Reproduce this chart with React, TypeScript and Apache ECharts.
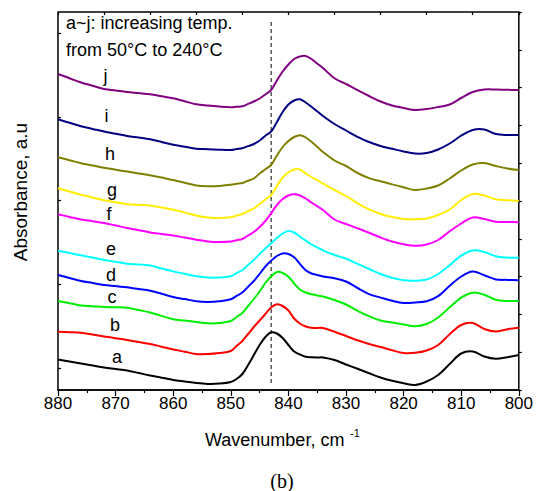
import React, { useEffect, useRef } from "react";
import * as echarts from "echarts";

// Wavenumber grid (cm-1): 2 cm-1 steps, 1 cm-1 steps across the main band
const wavenumbers = [
  880, 878, 876, 874, 872, 870, 868, 866, 864, 862, 860, 858, 856, 854, 852, 850,
  849, 848, 847, 846, 845, 844, 843, 842, 841, 840, 839, 838, 837, 836, 835, 834,
  832, 830, 828, 826, 824, 822, 820, 818, 816, 814, 812, 810, 808, 806, 804, 802, 800,
];

// Absorbance (arbitrary units, offset spectra)
const specA = [30.5, 28.5, 26.5, 24.5, 22.5, 21, 19.5, 17, 14.5, 12.3, 10, 8.5, 7, 6.1, 6.4, 8, 11, 16, 25, 35, 45, 53, 57.7, 56.5, 52, 45, 38.5, 35.5, 33.2, 32.8, 32.6, 32.5, 30, 25.5, 21.2, 16.8, 12.5, 9.2, 6.7, 5, 8.5, 15, 26, 36.5, 38.5, 33.5, 31.2, 32.8, 35];
const specB = [58.3, 57.8, 57.2, 55.4, 53.5, 51.8, 50, 48, 46, 43.3, 40.5, 38.3, 36, 36, 37, 39, 44, 49, 56, 63, 69.5, 76, 82.5, 85.7, 84, 79.5, 71.5, 66.5, 63.5, 62.3, 62.1, 62, 58.3, 54, 49.7, 46, 43, 39.7, 37, 37.2, 39.5, 45, 55.8, 65, 67, 61, 58.5, 60.8, 62.3];
const specC = [89, 86.8, 84.5, 83.8, 83, 82.7, 82.3, 79.9, 77.5, 74.1, 70.7, 69.4, 68, 66.7, 67, 69, 73, 77, 84, 91, 98.5, 107, 113.5, 118, 117, 113.3, 106.5, 100.5, 97.5, 95.7, 94.6, 93.5, 90, 85.5, 79.2, 73.8, 69.5, 67.5, 65.6, 63.8, 66, 72.5, 82.8, 92.3, 97.3, 95.3, 90.3, 89, 89];
const specD = [115, 112, 109, 107, 105, 103.9, 102.7, 101, 99.3, 96.2, 93, 90.9, 88.8, 88.1, 88.7, 90.7, 94.1, 97.5, 103.3, 109, 116, 123.5, 129.2, 134, 136.5, 136, 132.7, 126, 119.7, 116.5, 115, 113.5, 111.7, 108.5, 102, 95.9, 92.4, 89.2, 87, 87.5, 88.7, 93.8, 104.2, 113.5, 118.5, 114.7, 110.6, 110.1, 109.7];
const specE = [139.3, 137, 134.7, 132.4, 130, 128.2, 126.3, 125.4, 124.4, 121.5, 118.6, 116.2, 113.7, 112.4, 112.4, 113.7, 116.9, 120, 125, 130, 136, 141.5, 146.7, 152, 156.5, 159, 157.5, 153.3, 149.5, 145.5, 142.6, 139.7, 135, 131.2, 126.1, 121, 116, 112.3, 109.7, 109.3, 110.5, 116, 124.9, 134.3, 139.5, 138, 133.8, 132.5, 132.3];
const specF = [175.7, 173.1, 170.5, 168.8, 167, 164.5, 162, 159.8, 157.5, 156, 154.5, 152.4, 150.3, 148.6, 148, 148.5, 149.8, 151, 154.5, 158, 163, 169, 176.7, 185, 191, 194.5, 195.7, 194.5, 191.5, 187.5, 183.8, 180, 170.5, 166, 161.7, 157.2, 152.5, 148.5, 145.8, 144.3, 145.5, 150, 158.8, 166.5, 172.5, 171, 168.3, 168, 167.7];
const specG = [201.7, 198.5, 195.2, 192.5, 189.8, 187.8, 185.7, 185.2, 184.6, 182.4, 180.2, 177.4, 174.5, 172.6, 172, 172.7, 174.4, 176, 178.8, 181.5, 186, 190.5, 195, 204, 212.5, 217.5, 220.5, 220.5, 216.5, 213, 209.8, 206.5, 200, 194, 186.7, 180.7, 176, 173, 171, 170.7, 171.5, 175, 180.5, 190, 196, 194.5, 190.7, 189.7, 189];
const specH = [232.7, 229.8, 226.8, 224.5, 222.2, 220.3, 218.4, 216.6, 214.8, 212.4, 210, 207.3, 204.5, 203.8, 204.1, 205.3, 206.2, 207, 209.3, 211.5, 216.5, 220.7, 225, 234.5, 243, 249, 253, 254.8, 252.5, 248.3, 243.2, 238, 229.5, 224, 217, 211.9, 208.8, 205.6, 202.7, 200, 201.5, 204.5, 211.5, 219.5, 225.5, 226.9, 224, 221.5, 220];
const specI = [270.7, 267.2, 263.7, 261.1, 258.5, 256.3, 254.1, 252.5, 250.8, 248, 245.2, 243.3, 241.3, 240.8, 240.3, 240, 240.9, 241.8, 243.9, 246, 249.5, 254.3, 258.3, 268, 278, 285.5, 289.5, 290.7, 287.5, 283.3, 278.7, 274, 266, 259.5, 253.2, 248, 244, 241.2, 238.5, 236.5, 237, 240.5, 246.5, 254.3, 260, 260.5, 256, 255, 255];
const specJ = [316, 311.8, 307.5, 304.3, 301, 299.5, 298, 296.9, 295.7, 293.7, 291.7, 288.7, 285.7, 284.4, 283.4, 282.8, 283.3, 283.7, 286.1, 288.5, 291.5, 295.5, 300, 309.5, 318.5, 325.5, 331, 333.5, 334, 331, 326.5, 322, 311.7, 306, 299.8, 294, 288.5, 284.5, 282, 280, 281, 283, 285.5, 292, 298, 300.5, 300.5, 300.2, 300];

const seriesNames = ["a", "b", "c", "d", "e", "f", "g", "h", "i", "j"];
const seriesValues = [specA, specB, specC, specD, specE, specF, specG, specH, specI, specJ];
const seriesColors = ["#000000", "#ff0000", "#00ee00", "#0000ff", "#00ffff", "#ff00ff", "#ffee00", "#808000", "#000080", "#800080"];

// Reference line
const markerWavenumber = 843;
const markerRange = [7, 368];

// x ticks
const xMin = 800;
const xMax = 880;
const xStep = 10;

const FONT = "'Liberation Sans', Arial, Helvetica, sans-serif";

// label layout (pixels)
const letterPos: [number, number][] = [
  [117, 357],
  [115, 325],
  [112, 297],
  [111, 275],
  [111, 249],
  [109, 214],
  [112, 190],
  [110, 154],
  [106.5, 116],
  [105.5, 76],
];

function txt(text: string, x: number, y: number, fontSize: number, align = "center", extra: any = {}) {
  return {
    type: "text",
    x,
    y,
    silent: true,
    ...extra,
    style: {
      text,
      fontSize,
      fontFamily: extra.fontFamily || FONT,
      fill: "#000",
      align,
      verticalAlign: "middle",
      textAlign: align,
      textVerticalAlign: "middle",
    },
  };
}

export default function App() {
  const ref = useRef<HTMLDivElement>(null);
  useEffect(() => {
    document.body.style.margin = "0";
    const chart = echarts.init(ref.current!, null, { renderer: "svg" });
    const tickStyle = { color: "#000", width: 1.2 };
    const series: any[] = seriesValues.map((vals, k) => ({
      name: seriesNames[k],
      type: "custom",
      xAxisIndex: 0,
      yAxisIndex: 0,
      data: wavenumbers.map((w, i) => [w, vals[i]]),
      encode: { x: 0, y: 1 },
      silent: true,
      z: 3,
      renderItem: (params: any, api: any) => {
        if (params.dataIndex !== 0) return null;
        const pts = wavenumbers.map((w, i) => api.coord([w, vals[i]]));
        return {
          type: "polyline",
          shape: { points: pts, smooth: 0.35 },
          style: { stroke: seriesColors[k], lineWidth: 2, fill: "none", lineJoin: "round" },
        };
      },
    }));
    series.push({
      type: "line",
      xAxisIndex: 0,
      yAxisIndex: 0,
      data: [
        [markerWavenumber, markerRange[0]],
        [markerWavenumber, markerRange[1]],
      ],
      symbol: "none",
      lineStyle: { color: "#000", width: 1, type: [4, 3] },
      z: 2,
    });

    const graphic: any[] = [
      ...seriesNames.map((n, k) => txt(n, letterPos[k][0], letterPos[k][1], 18)),
      txt("a~j: increasing temp.", 66, 23, 18, "left"),
      txt("from 50\u00B0C to 240\u00B0C", 66, 50, 18, "left"),
      txt("Absorbance, a.u", 20, 192, 19, "center", { rotation: Math.PI / 2 }),
      txt("Wavenumber, cm", 205, 440, 18, "left"),
      txt("-1", 350, 433, 11, "left"),
      txt("(b)", 282, 481, 20, "center", { fontFamily: "'Liberation Serif', 'Times New Roman', serif" }),
    ];

    chart.setOption({
      animation: false,
      backgroundColor: "#ffffff",
      grid: [
        { left: 58, right: 14, top: 12, bottom: 101, show: true, borderColor: "#000", borderWidth: 1.5, backgroundColor: "transparent" },
        { left: 58, right: 14, top: 33, bottom: 123 },
      ],
      xAxis: [
        {
          type: "value",
          gridIndex: 0,
          min: xMin,
          max: xMax,
          interval: xStep,
          inverse: true,
          position: "bottom",
          axisLine: { show: true, lineStyle: { color: "#000", width: 1.5 } },
          axisTick: { show: true, inside: false, length: 6, lineStyle: tickStyle },
          minorTick: { show: true, splitNumber: 2, length: 3, lineStyle: tickStyle },
          axisLabel: { color: "#000", fontSize: 17, margin: 5, fontFamily: FONT },
          splitLine: { show: false },
          minorSplitLine: { show: false },
        },
        {
          type: "value",
          gridIndex: 0,
          min: xMin,
          max: xMax,
          interval: 8,
          inverse: true,
          position: "top",
          axisLine: { show: false },
          axisTick: { show: true, inside: true, length: 3, lineStyle: tickStyle },
          axisLabel: { show: false },
          splitLine: { show: false },
        },
        { type: "value", gridIndex: 1, min: xMin, max: xMax, show: false },
      ],
      yAxis: [
        {
          type: "value",
          gridIndex: 0,
          min: 0,
          max: 378,
          interval: 37.8,
          position: "right",
          axisLine: { show: false },
          axisTick: { show: true, inside: false, length: 3, lineStyle: tickStyle },
          axisLabel: { show: false },
          splitLine: { show: false },
        },
        {
          type: "value",
          gridIndex: 1,
          min: 0,
          max: 4,
          interval: 1,
          position: "left",
          axisLine: { show: false },
          axisTick: { show: true, inside: true, length: 3, lineStyle: tickStyle },
          axisLabel: { show: false },
          splitLine: { show: false },
        },
      ],
      series,
      graphic,
    });
    return () => chart.dispose();
  }, []);
  return <div ref={ref} style={{ position: "absolute", left: 0, top: 0, width: 536, height: 491 }} />;
}
